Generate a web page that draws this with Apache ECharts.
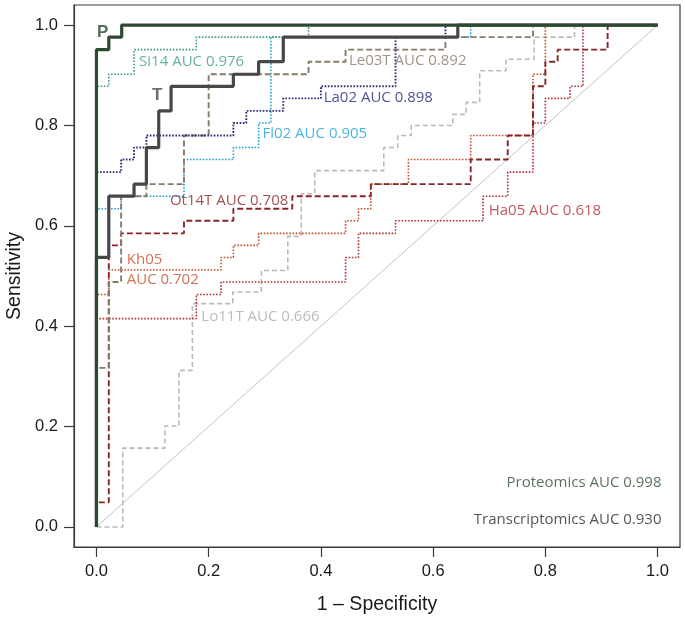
<!DOCTYPE html>
<html>
<head>
<meta charset="utf-8">
<script src="https://cdn.jsdelivr.net/npm/echarts/dist/echarts.min.js"></script>
<style>
html,body{margin:0;padding:0;background:#fff;}
#chart{width:685px;height:623px;}
</style>
</head>
<body>
<div id="chart"></div>
<script>
// ROC curves: vertices (1 - specificity, sensitivity); each step rises at fpr[i]
const tickValues = [0, 0.2, 0.4, 0.6, 0.8, 1.0];

const P_fpr = [0, 0, 0.022, 0.045, 1];
const P_tpr = [0, 0.951, 0.976, 1, 1];

const T_fpr = [0, 0, 0.022, 0.067, 0.089, 0.111, 0.133, 0.244, 0.289, 0.333, 0.644, 1];
const T_tpr = [0, 0.537, 0.659, 0.683, 0.756, 0.829, 0.878, 0.902, 0.927, 0.976, 1, 1];

const Si14_fpr = [0, 0, 0.022, 0.067, 0.178, 0.378, 1];
const Si14_tpr = [0, 0.878, 0.902, 0.951, 0.976, 1, 1];

const La02_fpr = [0, 0, 0.044, 0.067, 0.089, 0.244, 0.267, 0.333, 0.4, 0.533, 0.622, 1];
const La02_tpr = [0, 0.707, 0.732, 0.756, 0.78, 0.805, 0.829, 0.854, 0.878, 0.976, 1, 1];

const Fl02_fpr = [0, 0, 0.044, 0.156, 0.244, 0.289, 0.311, 0.667, 1];
const Fl02_tpr = [0, 0.634, 0.659, 0.732, 0.756, 0.805, 0.976, 1, 1];

const Le03T_fpr = [0, 0, 0.022, 0.044, 0.089, 0.156, 0.2, 0.378, 0.444, 0.622, 0.778, 1];
const Le03T_tpr = [0, 0.317, 0.488, 0.659, 0.683, 0.78, 0.902, 0.927, 0.951, 0.976, 1, 1];

const Ot14T_fpr = [0, 0, 0.022, 0.044, 0.156, 0.244, 0.349, 0.489, 0.667, 0.733, 0.778, 0.8, 0.822, 0.911, 1];
const Ot14T_tpr = [0, 0.049, 0.561, 0.585, 0.61, 0.634, 0.659, 0.683, 0.732, 0.78, 0.878, 0.927, 0.951, 1, 1];

const Kh05_fpr = [0, 0, 0.022, 0.222, 0.244, 0.289, 0.444, 0.467, 0.489, 0.556, 0.667, 0.778, 0.8, 1];
const Kh05_tpr = [0, 0.463, 0.512, 0.537, 0.561, 0.585, 0.61, 0.634, 0.683, 0.732, 0.78, 0.902, 1, 1];

const Ha05_fpr = [0, 0, 0.178, 0.222, 0.444, 0.467, 0.533, 0.689, 0.733, 0.778, 0.8, 0.844, 0.867, 1];
const Ha05_tpr = [0, 0.415, 0.463, 0.488, 0.537, 0.585, 0.61, 0.659, 0.707, 0.805, 0.854, 0.878, 1, 1];

const Lo11T_fpr = [0, 0.047, 0.122, 0.147, 0.171, 0.243, 0.294, 0.341, 0.365, 0.389, 0.512, 0.537, 0.561, 0.635, 0.659, 0.683, 0.73, 0.78, 0.852, 1];
const Lo11T_tpr = [0, 0.157, 0.201, 0.312, 0.445, 0.468, 0.511, 0.579, 0.664, 0.71, 0.756, 0.78, 0.8, 0.822, 0.846, 0.909, 0.932, 0.976, 1, 1];

const diag_x = [0, 1];
const diag_y = [0, 1];

// annotation texts and anchor points (data units)
const labelTexts = ['P', 'T', 'Si14 AUC 0.976', 'Le03T AUC 0.892', 'La02 AUC 0.898', 'Fl02 AUC 0.905',
  'Ot14T AUC 0.708', 'Ha05 AUC 0.618', 'Kh05', 'AUC 0.702', 'Lo11T AUC 0.666',
  'Proteomics AUC 0.998', 'Transcriptomics AUC 0.930'];
const labelX = [0.001, 0.099, 0.076, 0.45, 0.405, 0.296, 0.131, 0.699, 0.054, 0.054, 0.187, 1.007, 1.007];
const labelY = [0.986, 0.861, 0.926, 0.928, 0.855, 0.783, 0.65, 0.63, 0.532, 0.492, 0.418, 0.088, 0.014];

const COL = {
  P: '#2c4a30', T: '#474747', Si14: '#3f9c88', Le03T: '#877b6a', La02: '#26287a',
  Fl02: '#22a0d4', Ot14T: '#88252a', Kh05: '#c64f2c', Ha05: '#b2303a', Lo11T: '#b9b9b9'
};
const labelColors = [COL.P, COL.T, COL.Si14, COL.Le03T, COL.La02, COL.Fl02, COL.Ot14T, COL.Ha05,
  COL.Kh05, COL.Kh05, '#ababab', '#2f4f33', '#2a2a2a'];
const labelBold = [true, true, false, false, false, false, false, false, false, false, false, false, false];
const labelRightAlign = [false, false, false, false, false, false, false, false, false, false, false, true, true];

function pts(xs, ys) { return xs.map((x, i) => [x, ys[i]]); }

function curve(name, xs, ys, color, type, width) {
  return {
    type: 'line', name: name, data: pts(xs, ys), step: 'end', symbol: 'none', silent: true,
    lineStyle: { color: color, width: width, type: type }, z: 2
  };
}

const FONT = "'Open Sans', 'Noto Sans', sans-serif";
const AXFONT = "'Liberation Sans', Arial, sans-serif";

const labelData = labelTexts.map((t, i) => ({
  value: [labelX[i], labelY[i]],
  label: {
    show: true, formatter: t, color: labelColors[i],
    position: labelRightAlign[i] ? 'left' : 'right', distance: 0,
    fontSize: labelBold[i] ? 17 : 15, fontWeight: labelBold[i] ? 'bold' : 'normal',
    fontFamily: labelBold[i] ? AXFONT : FONT
  }
}));

const chart = echarts.init(document.getElementById('chart'), null, { renderer: 'canvas' });
chart.setOption({
  animation: false,
  backgroundColor: '#ffffff',
  grid: { left: 74, top: 5, right: 5, bottom: 76, containLabel: false, outerBoundsMode: 'none',
    show: true, borderColor: '#3a3a3a', borderWidth: 1.2, backgroundColor: 'transparent' },
  xAxis: {
    type: 'value', min: -0.04, max: 1.04,
    name: '1 \u2013 Specificity', nameLocation: 'middle', nameGap: 48,
    nameTextStyle: { fontSize: 19.5, color: '#1a1a1a', fontFamily: AXFONT },
    axisLine: { show: true, onZero: false, lineStyle: { color: '#3a3a3a', width: 1.2 } },
    axisTick: { show: true, length: 10, customValues: tickValues, lineStyle: { color: '#3a3a3a', width: 1.2 } },
    axisLabel: { customValues: tickValues, formatter: v => v.toFixed(1), margin: 16, fontSize: 16.5, color: '#1a1a1a', fontFamily: AXFONT },
    splitLine: { show: false }
  },
  yAxis: {
    type: 'value', min: -0.04, max: 1.04,
    name: 'Sensitivity', nameLocation: 'middle', nameGap: 48,
    nameTextStyle: { fontSize: 19.5, color: '#1a1a1a', fontFamily: AXFONT },
    axisLine: { show: true, onZero: false, lineStyle: { color: '#3a3a3a', width: 1.2 } },
    axisTick: { show: true, length: 10, customValues: tickValues, lineStyle: { color: '#3a3a3a', width: 1.2 } },
    axisLabel: { customValues: tickValues, formatter: v => v.toFixed(1), margin: 16, fontSize: 16.5, color: '#1a1a1a', fontFamily: AXFONT },
    splitLine: { show: false }
  },
  series: [
    { type: 'line', data: pts(diag_x, diag_y), symbol: 'none', silent: true, lineStyle: { color: '#c4c4c4', width: 1 }, z: 1 },
    curve('Lo11T', Lo11T_fpr, Lo11T_tpr, COL.Lo11T, [5, 3], 1.6),
    curve('Ha05', Ha05_fpr, Ha05_tpr, COL.Ha05, [1.6, 1.6], 1.6),
    curve('Kh05', Kh05_fpr, Kh05_tpr, COL.Kh05, [1.6, 1.6], 1.6),
    curve('Ot14T', Ot14T_fpr, Ot14T_tpr, COL.Ot14T, [6, 3], 1.9),
    curve('Fl02', Fl02_fpr, Fl02_tpr, COL.Fl02, [1.6, 1.6], 1.6),
    curve('Le03T', Le03T_fpr, Le03T_tpr, COL.Le03T, [6, 3], 1.9),
    curve('La02', La02_fpr, La02_tpr, COL.La02, [1.6, 1.6], 1.9),
    curve('Si14', Si14_fpr, Si14_tpr, COL.Si14, [1.6, 1.6], 1.6),
    curve('T', T_fpr, T_tpr, COL.T, 'solid', 3.2),
    curve('P', P_fpr, P_tpr, COL.P, 'solid', 3.2),
    { type: 'scatter', data: labelData, symbolSize: 0, silent: true, z: 5 }
  ]
});
</script>
</body>
</html>
